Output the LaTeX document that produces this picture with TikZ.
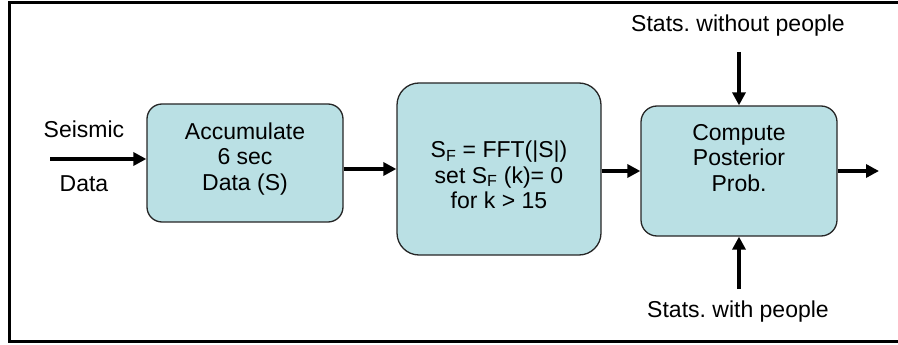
\documentclass[tikz,border=0pt]{standalone}
\usepackage{fontspec}
\setmainfont{Liberation Sans}
\usetikzlibrary{arrows.meta}
\definecolor{blocky}{HTML}{BAE0E4}
\frenchspacing

\begin{document}
\begin{tikzpicture}[x=1pt, y=-1pt, every node/.style={font=\fontsize{23}{25.5}\selectfont, align=center, inner sep=0pt}, block/.style={rectangle, rounded corners=15pt, draw=black!85, line width=1.3pt, fill=blocky}, flow/.style={line width=4pt, -{Triangle[length=13pt, width=13pt]}}]
  \useasboundingbox (0,0) rectangle (898,345);
  \draw[line width=3pt] (899,2.5) -- (9.5,2.5) -- (9.5,341) -- (899,341);
  % blocks
  \node[block, minimum width=196pt, minimum height=118pt] (acc) at (245,163) {};
  \node (acctext) at (245,159) {Accumulate\\6 sec\\Data (S)};
  \node[block, rounded corners=22pt, minimum width=204pt, minimum height=172pt] (fft) at (499,169) {};
  \node (ffttext) at (499,175) {S\textsubscript{F} = FFT(|S|)\\set S\textsubscript{F} (k)= 0\\for k > 15};
  \node[block, rounded corners=16pt, minimum width=196pt, minimum height=130pt] (post) at (739,171) {};
  \node (posttext) at (739,158) {Compute\\Posterior\\Prob.};
  % labels
  \node[anchor=base] (seis) at (84,138) {Seismic};
  \node[anchor=base] (data) at (84,191) {Data};
  \node[anchor=base] (nopeople) at (738,32) {Stats. without people};
  \node[anchor=base] (people) at (738,317) {Stats. with people};
  \coordinate (sin) at (50,159);
  \coordinate (sout) at (879,171);
  \coordinate (ntop) at (739,52);
  \coordinate (nbot) at (739,289);
  % arrows
  \draw[flow] (sin) -- (sin -| acc.west);
  \draw[flow] (acc.east |- fft.west) -- (fft.west);
  \draw[flow] (fft.east |- post.west) -- (post.west);
  \draw[flow] (post.east) -- (sout);
  \draw[flow] (ntop) -- (post.north);
  \draw[flow] (nbot) -- (post.south);
\end{tikzpicture}
\end{document}
